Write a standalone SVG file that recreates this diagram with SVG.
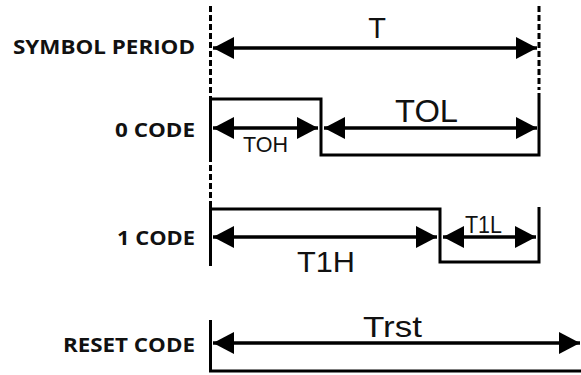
<svg xmlns="http://www.w3.org/2000/svg" width="581" height="375" viewBox="0 0 581 375">
<defs>
<style>
.lbl{font-family:"Open Sans","Noto Sans","Liberation Sans",sans-serif;font-weight:bold;font-size:19px;fill:#111;text-anchor:end}
.dim{font-family:"Liberation Sans",Arial,sans-serif;fill:#111}
.ln{stroke:#000;stroke-width:3;fill:none}
.dash{stroke:#000;stroke-width:3;fill:none;stroke-dasharray:6 3}
.arr{stroke:#000;stroke-width:3.5;fill:none;marker-start:url(#ah);marker-end:url(#ah)}
</style>
<marker id="ah" markerUnits="userSpaceOnUse" markerWidth="22" markerHeight="24" refX="21" refY="12" orient="auto-start-reverse">
<path d="M0,1 L21,12 L0,23 z" fill="#000"/>
</marker>
</defs>
<rect width="581" height="375" fill="#fff"/>
<g id="labels">
<text class="lbl" x="195" y="54" textLength="182" lengthAdjust="spacingAndGlyphs">SYMBOL PERIOD</text>
<text class="lbl" x="195" y="137" textLength="80" lengthAdjust="spacingAndGlyphs">0 CODE</text>
<text class="lbl" x="195" y="245" textLength="78" lengthAdjust="spacingAndGlyphs">1 CODE</text>
<text class="lbl" x="195" y="352" textLength="132" lengthAdjust="spacingAndGlyphs">RESET CODE</text>
</g>
<g id="guides">
<line class="dash" x1="210.5" y1="6" x2="210.5" y2="96"/>
<line class="dash" x1="210.5" y1="156" x2="210.5" y2="207"/>
<line class="dash" x1="539" y1="6" x2="539" y2="90"/>
</g>
<g id="symbol-period">
<line class="arr" x1="213" y1="48" x2="537" y2="48"/>
<text class="dim" x="377" y="38" font-size="29" text-anchor="middle">T</text>
</g>
<g id="code0">
<polyline class="ln" points="210.5,96 210.5,99 321,99 321,155 539,155 539,93"/>
<line class="ln" x1="210.5" y1="96" x2="210.5" y2="157"/>
<line class="arr" x1="213" y1="128" x2="318" y2="128"/>
<line class="arr" x1="324" y1="128" x2="537" y2="128"/>
<text class="dim" x="243" y="152" font-size="22" textLength="45" lengthAdjust="spacingAndGlyphs">TOH</text>
<text class="dim" x="395" y="122" font-size="31" textLength="63" lengthAdjust="spacingAndGlyphs">TOL</text>
</g>
<g id="code1">
<polyline class="ln" points="210.5,209 440,209 440,262 539,262 539,207"/>
<line class="ln" x1="210.5" y1="205" x2="210.5" y2="266"/>
<line class="arr" x1="213" y1="237" x2="437" y2="237"/>
<line class="arr" x1="443" y1="237" x2="536" y2="237"/>
<text class="dim" x="297" y="272" font-size="30" textLength="58" lengthAdjust="spacingAndGlyphs">T1H</text>
<text class="dim" x="465" y="233" font-size="24" textLength="37" lengthAdjust="spacingAndGlyphs">T1L</text>
</g>
<g id="reset">
<polyline class="ln" points="210.5,320 210.5,371 581,371"/>
<line class="arr" x1="213" y1="343" x2="580" y2="343"/>
<text class="dim" x="363" y="337" font-size="30" textLength="59" lengthAdjust="spacingAndGlyphs">Trst</text>
</g>
</svg>
